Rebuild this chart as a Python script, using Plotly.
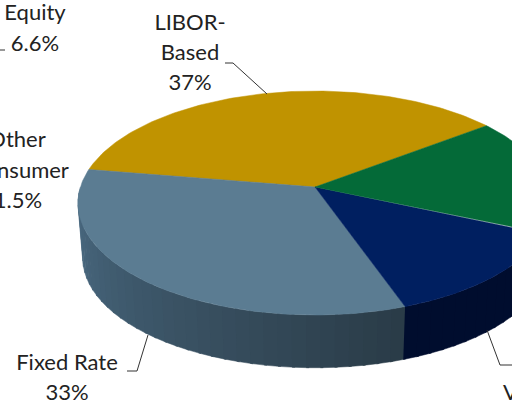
import numpy as np
import plotly.graph_objects as go

# Data
slice_names = ["LIBOR-Based", "Fixed Rate", "Variable", "Other"]
slice_values = [37, 33, 13, 17]
top_colors = ["#C09300", "#5B7C92", "#001F60", "#046A38"]
wall_left = [None, (76, 108, 132), (0, 13, 46), (0, 13, 46)]
wall_right = [None, (42, 60, 72), (0, 13, 46), (0, 13, 46)]

label_lines = ["LIBOR-", "Based", "37%", "Equity", "6.6%", "Other", "Consumer", "11.5%",
               "Fixed Rate", "33%"]
label_x = [190, 190, 190, 35, 35, 17, 19.5, 11.5, 67, 67]
label_y = [24, 54, 84, 14, 45, 141, 172, 202, 364, 394]
leaders = [
    ([225, 233, 267], [63, 63, 94]),
    ([127, 137, 148], [371, 371, 335]),
    ([487, 500, 512], [330, 365, 365]),
    ([0, 5], [50, 50]),
]

# Projection of the disc
CX, CY0 = 315, 187          # apex
A, B, K = 234.6, 109.7, 0.143
ECY = 203                   # ellipse centre of the top face
SCALE, DROP = 0.98, 55
START = 37.4                # degrees, counter-clockwise


def top(theta):
    u, v = np.cos(theta), np.sin(theta)
    w = 1 + K * v
    return CX + A * u / w, CY0 - B * v / w


def bottom(theta):
    x, y = top(theta)
    return CX + SCALE * (x - CX), ECY + SCALE * (y - ECY) + DROP


fig = go.Figure()
edges = np.radians(START + np.concatenate([[0], np.cumsum(slice_values)]) * 3.6)

# Side wall: only the front half of the disc is visible
for i in range(len(slice_values)):
    lo, hi = edges[i], edges[i + 1]
    lo2, hi2 = max(lo, np.pi), min(hi, 2 * np.pi)
    if hi2 <= lo2 or wall_left[i] is None:
        continue
    n = max(2, int((hi2 - lo2) / np.radians(3)))
    cuts = np.linspace(lo2, hi2, n + 1)
    for j in range(n):
        f = j / max(1, n - 1)
        c = [round(a + (b - a) * f) for a, b in zip(wall_left[i], wall_right[i])]
        t = np.linspace(cuts[j], cuts[j + 1] + 0.01, 6)
        x1, y1 = top(t)
        x2, y2 = bottom(t[::-1])
        col = f"rgb({c[0]},{c[1]},{c[2]})"
        fig.add_trace(go.Scatter(
            x=np.concatenate([x1, x2]), y=np.concatenate([y1, y2]),
            mode="lines", fill="toself", fillcolor=col,
            line=dict(width=0.5, color=col), hoverinfo="skip", showlegend=False))

# Top face
for i, name in enumerate(slice_names):
    t = np.linspace(edges[i], edges[i + 1], 120)
    x, y = top(t)
    fig.add_trace(go.Scatter(
        x=np.concatenate([[CX], x, [CX]]), y=np.concatenate([[CY0], y, [CY0]]),
        mode="lines", fill="toself", fillcolor=top_colors[i],
        line=dict(width=0.5, color=top_colors[i]), name=name, showlegend=False))

# Leader lines
for lx, ly in leaders:
    fig.add_trace(go.Scatter(x=lx, y=ly, mode="lines",
                             line=dict(color="#333333", width=1),
                             hoverinfo="skip", showlegend=False))

# Labels
fig.add_trace(go.Scatter(
    x=label_x, y=label_y, text=label_lines, mode="text", textposition="middle center",
    textfont=dict(family="Lato", size=22, color="#222222"),
    hoverinfo="skip", showlegend=False))
fig.add_trace(go.Scatter(
    x=[503], y=[394], text=["Variable"], mode="text", textposition="middle right",
    textfont=dict(family="Lato", size=22, color="#222222"),
    hoverinfo="skip", showlegend=False))

fig.update_layout(
    width=523, height=405, margin=dict(l=0, r=11, t=0, b=0),
    paper_bgcolor="white", plot_bgcolor="white",
    xaxis=dict(range=[0, 512], visible=False, fixedrange=True),
    yaxis=dict(range=[405, 0], visible=False, fixedrange=True),
)
fig.write_html("out.html", config={"displayModeBar": False},
               post_script="document.body.style.margin='0';document.body.style.overflow='hidden';")
